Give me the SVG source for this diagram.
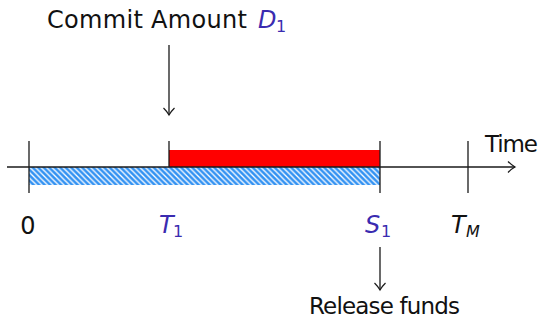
<svg xmlns="http://www.w3.org/2000/svg" width="544" height="320" viewBox="0 0 544 320">
<style>
.ln{stroke:#1a1a1a;stroke-width:1.3;fill:none}
.tx{font-family:"DejaVu Sans",sans-serif;font-size:23px;fill:#111}
.mt{font-family:"DejaVu Sans",sans-serif;font-size:24px;font-style:italic;fill:#3a2bb0}
.mb{font-family:"DejaVu Sans",sans-serif;font-size:16px;fill:#3a2bb0}
.mk{font-family:"DejaVu Sans",sans-serif;font-size:24px;font-style:italic;fill:#111}
.mkb{font-family:"DejaVu Sans",sans-serif;font-size:16px;font-style:italic;fill:#111}
</style>
<defs>
<pattern id="hatch" patternUnits="userSpaceOnUse" width="5.5" height="5.5">
<rect width="5.5" height="5.5" fill="#3392f2"/>
<path d="M-1,-1 L6.5,6.5 M-1,4.5 L1,6.5 M4.5,-1 L6.5,1" stroke="#fff" stroke-width="1.3"/>
</pattern>
<marker id="arr" markerWidth="14" markerHeight="14" refX="9" refY="7" orient="auto" markerUnits="userSpaceOnUse">
<path d="M2,1.5 Q6,5.5 9,7 Q6,8.5 2,12.5" fill="none" stroke="#1a1a1a" stroke-width="1.2"/>
</marker>
</defs>
<g id="bars">
<rect x="169" y="150" width="211" height="17" fill="#ff0000"/>
<rect x="29" y="167" width="351" height="18" fill="url(#hatch)"/>
</g>
<g id="connectors">
<line class="ln" x1="7" y1="167" x2="515" y2="167" marker-end="url(#arr)"/>
<line class="ln" x1="29" y1="141" x2="29" y2="193"/>
<line class="ln" x1="169" y1="141" x2="169" y2="167"/>
<line class="ln" x1="380" y1="141" x2="380" y2="193"/>
<line class="ln" x1="468" y1="141" x2="468" y2="193"/>
<line class="ln" x1="169" y1="45" x2="169" y2="115" marker-end="url(#arr)"/>
<line class="ln" x1="380" y1="247" x2="380" y2="290" marker-end="url(#arr)"/>
</g>
<g id="commit">
<text class="tx" x="47" y="28" textLength="200" style="font-size:24px">Commit Amount</text>
<text class="mt" x="258" y="28">D</text>
<text class="mb" x="276" y="32">1</text>
</g>
<g id="time"><text class="tx" x="485" y="152" textLength="53">Time</text></g>
<g id="label0"><text class="tx" x="28" y="234" text-anchor="middle" style="font-size:24px">0</text></g>
<g id="labelT1"><text class="mt" x="159" y="233">T</text><text class="mb" x="173" y="237">1</text></g>
<g id="labelS1"><text class="mt" x="365" y="233">S</text><text class="mb" x="381" y="237">1</text></g>
<g id="labelTM"><text class="mk" x="451" y="233">T</text><text class="mkb" x="466" y="237">M</text></g>
<g id="release"><text class="tx" x="309" y="314" textLength="151">Release funds</text></g>
</svg>
